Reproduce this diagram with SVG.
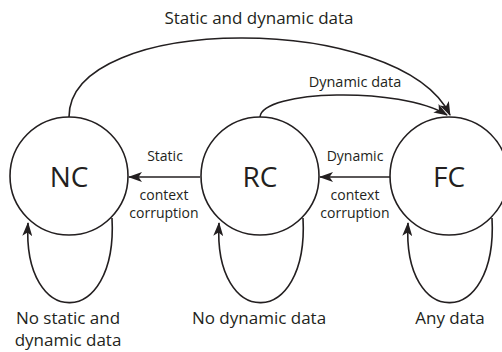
<svg xmlns="http://www.w3.org/2000/svg" width="502" height="352" viewBox="0 0 502 352">
<defs>
<marker id="arr" viewBox="0 0 14 10" refX="13" refY="5" markerWidth="14" markerHeight="10" markerUnits="userSpaceOnUse" orient="auto">
<path d="M0,0 L14,5 L0,10 L3.5,5 Z" fill="#231f20"/>
</marker>
</defs>
<style>
.node{fill:#fff;stroke:#231f20;stroke-width:1.6}
.edge{fill:none;stroke:#231f20;stroke-width:1.6}
.big{font-family:"Open Sans","Liberation Sans",sans-serif;font-size:28px;fill:#231f20;text-anchor:middle}
.lbl{font-family:"Open Sans","Liberation Sans",sans-serif;font-size:14px;fill:#231f20;text-anchor:middle}
.lg{font-size:17px}
.top{font-size:17px}
.dd{font-size:14.5px}
</style>
<rect width="502" height="352" fill="#fff"/>
<g id="connectors">
<path class="edge" d="M69,117 C69,12 400,12 450,115" marker-end="url(#arr)"/>
<path class="edge" d="M260,117 C262,90 400,86 447,115" marker-end="url(#arr)"/>
<path class="edge" d="M200,177 L129,177" marker-end="url(#arr)"/>
<path class="edge" d="M390,177 L320,177" marker-end="url(#arr)"/>
<path class="edge" d="M112,218 C118,330 22,330 28,223" marker-end="url(#arr)"/>
<path class="edge" d="M303,218 C309,330 213,330 219,223" marker-end="url(#arr)"/>
<path class="edge" d="M492,218 C498,330 402,330 408,223" marker-end="url(#arr)"/>
<text class="lbl top" x="259" y="24">Static and dynamic data</text>
<text class="lbl dd" x="355" y="87">Dynamic data</text>
<text class="lbl" x="165" y="161">Static</text>
<text class="lbl" x="164" y="200">context</text>
<text class="lbl" x="164" y="218">corruption</text>
<text class="lbl" x="355" y="161">Dynamic</text>
<text class="lbl" x="355" y="200">context</text>
<text class="lbl" x="355" y="218">corruption</text>
<text class="lbl lg" x="68" y="324">No static and</text>
<text class="lbl lg" x="68" y="346">dynamic data</text>
<text class="lbl lg" x="259" y="324">No dynamic data</text>
<text class="lbl lg" x="450" y="324">Any data</text>
</g>
<g id="NC"><circle class="node" cx="69" cy="176" r="59"/><text class="big" x="69" y="187">NC</text></g>
<g id="RC"><circle class="node" cx="260" cy="176" r="59"/><text class="big" x="260" y="187">RC</text></g>
<g id="FC"><circle class="node" cx="449" cy="176" r="59"/><text class="big" x="449" y="187">FC</text></g>
</svg>
